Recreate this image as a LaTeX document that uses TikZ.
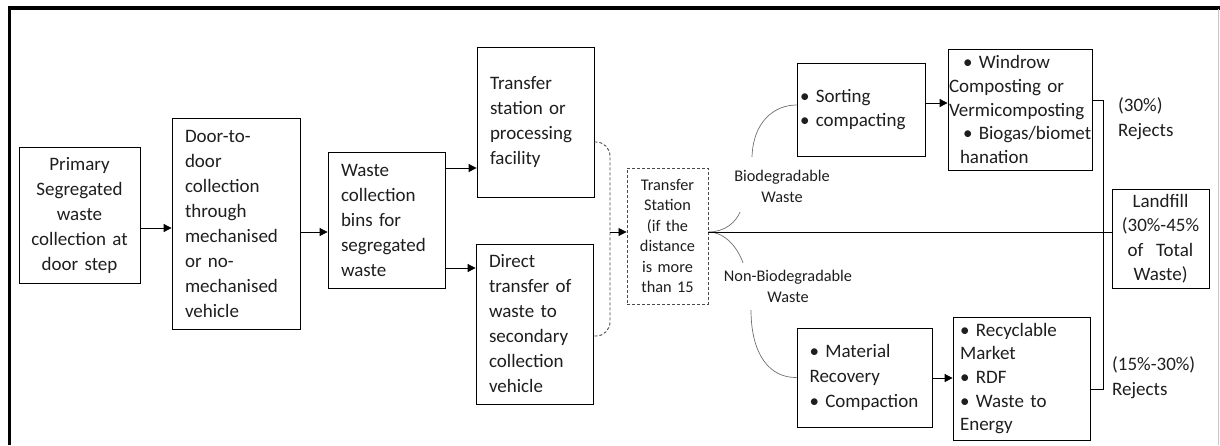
\documentclass[tikz,border=0pt]{standalone}
\usepackage{fontspec}
\setmainfont{Carlito}
\usetikzlibrary{arrows.meta}
\newcommand\fsmain{\fontsize{19}{25}\selectfont}
\newcommand\fsmid{\fontsize{19}{23.7}\selectfont}
\newcommand\fssmall{\fontsize{16.3}{20.5}\selectfont}
\newcommand\fslab{\fontsize{16.3}{21}\selectfont}
\definecolor{txt}{HTML}{1E1E1E}
\definecolor{crvgray}{HTML}{6E6E6E}
\definecolor{dashgray}{HTML}{4A4A4A}
\begin{document}
\begin{tikzpicture}[x=1pt,y=-1pt,
  box/.style={draw=black, line width=0.8pt, inner ysep=0pt, text=txt, font=\fsmain},
  arr/.style={-{Triangle[length=8pt,width=8pt]}, line width=0.8pt},
  crv/.style={draw=crvgray, line width=0.7pt},
  dashline/.style={draw=dashgray, line width=0.9pt, dash pattern=on 3pt off 2pt},
  plain/.style={line width=0.8pt},
  lab/.style={text=txt, inner sep=0pt}]
\useasboundingbox (0,0) rectangle (1220,445);
% frame
\draw[line width=3.5pt] (9.5,445) -- (9.5,8) -- (1220,8);
\draw[gray!45, line width=0.8pt] (1218,9) -- (1218,445);

% boxes
\node[box, minimum width=121pt, minimum height=136pt, text width=115pt, inner xsep=3pt, align=center] (b1) at (79.5,215)
  {Primary\\Segregated\\waste\\collection at\\door step};
\node[box, minimum width=128pt, minimum height=211pt, text width=102pt, inner xsep=13pt, align=left] (b2) at (236,223.5)
  {Door-to-\\door\\collection\\through\\mechanised\\or no-\\mechanised\\vehicle};
\node[box, minimum width=117pt, minimum height=136pt, text width=91pt, inner xsep=13pt, align=left] (b3) at (386.5,220)
  {Waste\\collection\\bins for\\segregated\\waste};
\node[box, minimum width=117pt, minimum height=150pt, text width=91pt, inner xsep=13pt, align=left] (b4) at (535.5,122)
  {Transfer\\station or\\processing\\facility};
\node[box, minimum width=117pt, minimum height=160pt, text width=91pt, inner xsep=13pt, align=left] (b5) at (534.5,324)
  {Direct\\transfer of\\waste to\\secondary\\collection\\vehicle};
\node[box, dashline, font=\fssmall, minimum width=81pt, minimum height=136pt, text width=77pt, inner xsep=2pt, align=center] (b6) at (667.5,236)
  {Transfer\\Station\\(if the\\distance\\is more\\than 15};
\node[box, font=\fsmid, minimum width=128pt, minimum height=93pt, text width=122pt, inner xsep=3pt, align=left] (b7) at (861,109.5)
  {• Sorting\\• compacting};
\node[box, font=\fsmid, minimum width=144pt, minimum height=121pt, text width=142pt, inner xsep=1pt, align=left] (b8) at (1020,109.5)
  {\mbox{\hspace*{14pt}•~Windrow}\\\mbox{Composting or}\\\mbox{Vermicomposting}\\\mbox{\hspace*{14pt}•~Biogas/biomet}\\\mbox{\hspace*{11pt}hanation}};
\node[box, minimum width=135pt, minimum height=99pt, text width=110pt, inner xsep=12.5pt, align=left] (b9) at (864.5,377.5)
  {• Material\\Recovery\\• Compaction};
\node[box, font=\fsmid, minimum width=137pt, minimum height=123pt, text width=123pt, inner xsep=7pt, align=left] (b10) at (1021.5,378.5)
  {• Recyclable\\Market\\• RDF\\• Waste to\\Energy};
\node[box, font=\fontsize{19}{24.5}\selectfont, minimum width=97pt, minimum height=99pt, text width=91pt, inner xsep=3pt, align=center] (lf) at (1160.5,238.5)
  {Landfill\\(30\%-45\%\\of~~Total\\Waste)};

% labels
\node[lab, font=\fslab, align=center] (bio) at (782,186) {Biodegradable\\Waste};
\node[lab, font=\fslab, align=center] (nbio) at (788,286) {Non-Biodegradable\\Waste};
\node[lab, font=\fsmain, align=left, anchor=west] (rej1) at (1118,119) {(30\%)\\Rejects};
\node[lab, font=\fsmain, align=left, anchor=west] (rej2) at (1112,378) {(15\%-30\%)\\Rejects};

% coordinates
\coordinate (brk) at (610,232);
\coordinate (j) at (b6.east |- brk);
\coordinate (bioA) at (740,212);
\coordinate (bioB) at (752,157);
\coordinate (nbA) at (743,263);
\coordinate (nbB) at (751,310);
\coordinate (rt) at (1103,100);
\coordinate (rb) at (1103,389);

% arrows
\draw[arr] (b1.east |- 0,228) -- (b2.west |- 0,228);
\draw[arr] (b2.east |- 0,232) -- (b3.west |- 0,232);
\draw[arr] (b3.east |- 0,168) -- (b4.west |- 0,168);
\draw[arr] (b3.east |- 0,268) -- (b5.west |- 0,268);
\draw[dashline, rounded corners=14pt]
  (b4.east |- 0,142) -| (brk) |- (b5.east |- 0,336);
\draw[arr] (brk) -- (b6.west |- brk);
\draw[arr] (b7.east |- 0,103) -- (b8.west |- 0,103);
\draw[arr] (b9.east |- 0,378) -- (b10.west |- 0,378);

% branch curves
\draw[crv] (j) .. controls (725,232) and (736,222) .. (bioA);
\draw[crv] (bioB) .. controls (753,122) and (774,105) .. (b7.west |- 0,105);
\draw[crv] (j) .. controls (725,232) and (738,248) .. (nbA);
\draw[crv] (nbB) .. controls (751,355) and (770,378) .. (b9.west);

% main line to landfill
\draw[plain] (j) -- (lf.west |- j);
% rejects bracket
\draw[plain] (b8.east |- rt) -- (rt) -- (rb) -- (b10.east |- rb);
\end{tikzpicture}
\end{document}
